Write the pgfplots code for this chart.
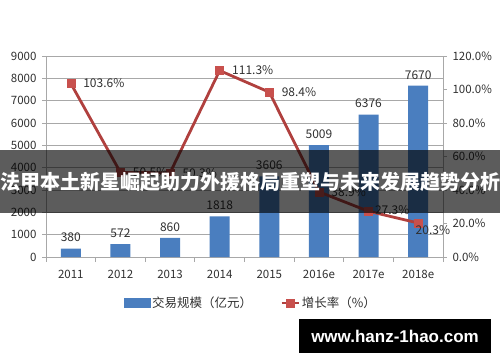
\documentclass[border=0pt]{standalone}
\usepackage{fontspec}
\setmainfont{Noto Sans CJK SC}
\usepackage{pgfplots}
\pgfplotsset{compat=1.18}
\definecolor{barblue}{HTML}{4A7EBF}
\definecolor{linered}{HTML}{B0403E}
\definecolor{markred}{HTML}{C8504D}
\definecolor{gridgray}{HTML}{A8A8A8}
\definecolor{txt}{HTML}{303030}
\pgfplotsset{/pgf/number format/assume math mode=true}
\begin{document}
\begin{tikzpicture}
\path[use as bounding box] (0,0) rectangle (500bp,-362bp);
\begin{axis}[
  at={(46bp,-257bp)}, anchor=south west,
  scale only axis, width=397bp, height=201bp,
  xmin=-0.5, xmax=7.5, ymin=0, ymax=9000,
  axis x line*=bottom, axis y line*=left,
  axis line style={gridgray, line width=0.8bp},
  xtick={0,...,7},
  xticklabels={2011,2012,2013,2014,2015,2016e,2017e,2018e},
  minor xtick={-0.5,0.5,...,7.5},
  major x tick style={draw=none},
  minor x tick style={gridgray, line width=0.8bp},
  minor tick length=5bp,
  ytick={0,1000,...,9000},
  major y tick style={gridgray, line width=0.8bp},
  major tick length=4bp,
  tick align=outside,
  ymajorgrids, grid style={gridgray, line width=0.7bp},
  yticklabel style={font=\fontsize{11.5bp}{13bp}\selectfont, text=txt, xshift=-2bp},
  xticklabel style={font=\fontsize{11.5bp}{13bp}\selectfont, text=txt, yshift=-6bp},
  /pgf/number format/1000 sep={},
  ybar, bar width=20bp,
  nodes near coords,
  every node near coord/.append style={font=\fontsize{12bp}{14bp}\selectfont, text=txt, yshift=3bp, /pgf/number format/1000 sep={}},
  clip=false,
]
\addplot[fill=barblue, draw=none] coordinates {(0,380) (1,572) (2,860) (3,1818) (4,3606) (5,5009) (6,6376) (7,7670)};
\end{axis}
\begin{axis}[
  at={(46bp,-257bp)}, anchor=south west,
  scale only axis, width=397bp, height=201bp,
  xmin=-0.5, xmax=7.5, ymin=0, ymax=120,
  axis x line=none, axis y line*=right,
  axis line style={gridgray, line width=0.8bp},
  ytick={0,20,...,120},
  yticklabels={0.0\%,20.0\%,40.0\%,60.0\%,80.0\%,100.0\%,120.0\%},
  major y tick style={gridgray, line width=0.8bp},
  major tick length=4bp,
  tick align=outside,
  yticklabel style={font=\fontsize{11.5bp}{13bp}\selectfont, text=txt, xshift=2bp},
  clip=false,
  legend style={at={(0.516,-0.229)}, anchor=center, draw=none, fill=none,
    font=\fontsize{12.5bp}{14bp}\selectfont, text=txt,
    /tikz/every even column/.append style={column sep=26bp}},
  legend columns=2,
]
\addlegendimage{legend image code/.code={\fill[barblue] (0bp,-4bp) rectangle (26bp,5bp);}}
\addlegendentry{交易规模（亿元）}
\addplot[linered, line width=2.8bp, mark=square*, mark size=4bp,
  mark options={fill=markred, draw=markred, line width=0.5bp}]
  coordinates {(0,103.6) (1,50.5) (2,50.3) (3,111.3) (4,98.4) (5,38.9) (6,27.3) (7,20.3)};
\addlegendentry{增长率（\%）}
\addplot[draw=none, mark=none, forget plot, nodes near coords={\pgfmathprintnumber[fixed,precision=1,fixed zerofill]{\pgfplotspointmeta}\%},
  every node near coord/.append style={anchor=west, xshift=9bp, font=\fontsize{12bp}{14bp}\selectfont, text=txt}]
  coordinates {(0,103.6) (1,50.5) (2,50.3) (3,111.3) (4,98.4) (5,38.9)};
\addplot[draw=none, mark=none, forget plot, nodes near coords={\pgfmathprintnumber[fixed,precision=1,fixed zerofill]{\pgfplotspointmeta}\%},
  every node near coord/.append style={anchor=west, xshift=3bp, yshift=1bp, font=\fontsize{12bp}{14bp}\selectfont, text=txt}]
  coordinates {(6,27.3)};
\addplot[draw=none, mark=none, forget plot, nodes near coords={\pgfmathprintnumber[fixed,precision=1,fixed zerofill]{\pgfplotspointmeta}\%},
  every node near coord/.append style={anchor=north west, xshift=-6bp, yshift=1bp, font=\fontsize{12bp}{14bp}\selectfont, text=txt}]
  coordinates {(7,20.3)};
\end{axis}
\fill[black, opacity=0.64] (0,-150bp) rectangle (500bp,-213bp);
\node[text=white, font=\fontsize{20bp}{22bp}\selectfont\bfseries, inner sep=0] at (250bp,-182bp) {法甲本土新星崛起助力外援格局重塑与未来发展趋势分析};
\fill[black] (299bp,-319bp) rectangle (491bp,-353bp);
\node[text=white, font=\fontspec{Liberation Sans}\fontsize{17bp}{19bp}\selectfont\bfseries, inner sep=0] at (395bp,-336bp) {www.hanz-1hao.com};
\end{tikzpicture}
\end{document}
